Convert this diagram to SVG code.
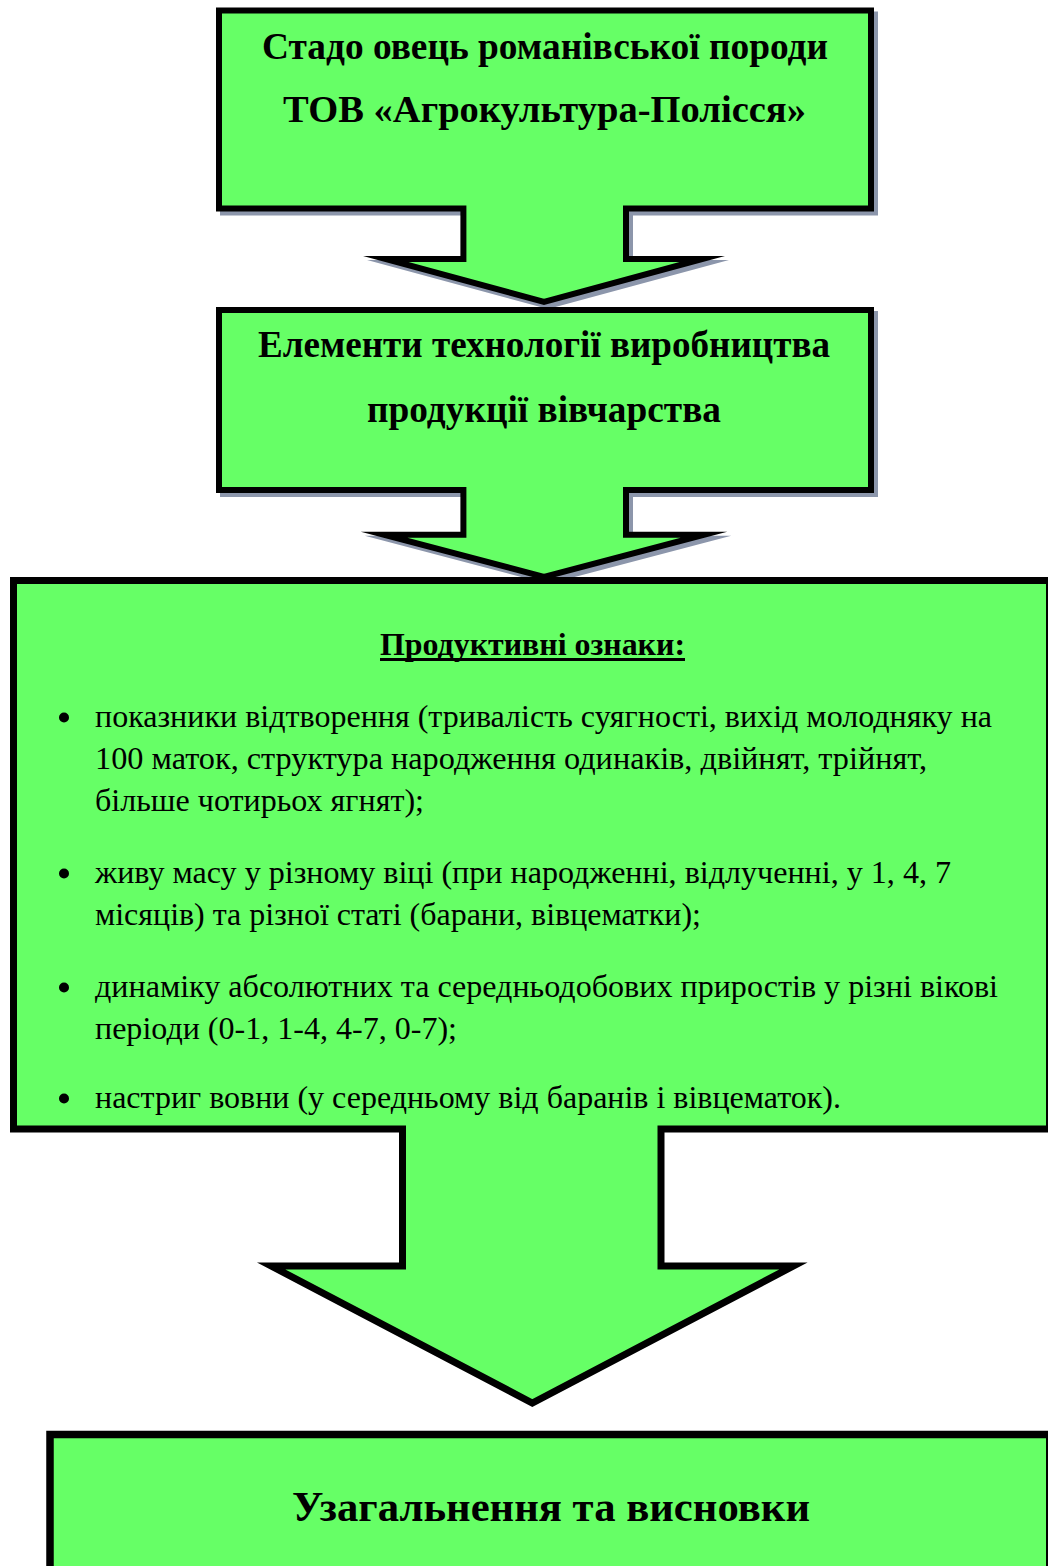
<svg xmlns="http://www.w3.org/2000/svg" width="1048" height="1566" viewBox="0 0 1048 1566">
<style>
.sh{fill:#8c96ab;stroke:#8c96ab;stroke-width:6;stroke-linejoin:miter;stroke-miterlimit:12}
.box{fill:#66ff66;stroke:#000;stroke-linejoin:miter;stroke-miterlimit:12}
.t{font-family:"Liberation Serif","Times New Roman",serif;fill:#000}
.h{font-weight:bold;font-size:37.5px}
.b{font-size:32px}
</style>
<rect width="1048" height="1566" fill="#fff"/>
<g id="connectors"></g>
<g id="node1">
<path class="sh" transform="translate(4,4)" d="M219,10.5 H871 V208.5 H626 V259 H702.4 L544,301.9 L385.6,259 H463.4 V208.5 H219 Z"/>
<path class="box" stroke-width="6" d="M219,10.5 H871 V208.5 H626 V259 H702.4 L544,301.9 L385.6,259 H463.4 V208.5 H219 Z"/>
<text class="t h" x="262" y="59" textLength="566" lengthAdjust="spacingAndGlyphs">Стадо овець романівської породи</text>
<text class="t h" x="283" y="122" textLength="523" lengthAdjust="spacingAndGlyphs">ТОВ «Агрокультура-Полісся»</text>
</g>
<g id="node2">
<path class="sh" transform="translate(4,4)" d="M219,310 H871 V490 H626 V534.7 H704.1 L544,576.9 L383.9,534.7 H463.4 V490 H219 Z"/>
<path class="box" stroke-width="6" d="M219,310 H871 V490 H626 V534.7 H704.1 L544,576.9 L383.9,534.7 H463.4 V490 H219 Z"/>
<text class="t h" x="258" y="357" textLength="572" lengthAdjust="spacingAndGlyphs">Елементи технології виробництва</text>
<text class="t h" x="367" y="422" textLength="354" lengthAdjust="spacingAndGlyphs">продукції вівчарства</text>
</g>
<g id="node3">
<path class="box" stroke-width="7" d="M13.5,580.5 H1049.5 V1129 H661 V1266 H793.4 L532.3,1403 L271.2,1266 H402.5 V1129 H13.5 Z"/>
<text class="t" x="380" y="655" font-size="32" font-weight="bold" textLength="305" lengthAdjust="spacingAndGlyphs">Продуктивні ознаки:</text>
<rect x="380" y="658" width="305" height="3" fill="#000"/>
<g fill="#000">
<circle cx="64" cy="717.5" r="5"/>
<circle cx="64" cy="873.5" r="5"/>
<circle cx="64" cy="987.5" r="5"/>
<circle cx="64" cy="1098.5" r="5"/>
</g>
<text class="t b" x="95" y="727" textLength="897" lengthAdjust="spacingAndGlyphs">показники відтворення (тривалість суягності, вихід молодняку на</text>
<text class="t b" x="95" y="769" textLength="832" lengthAdjust="spacingAndGlyphs">100 маток, структура народження одинаків, двійнят, трійнят,</text>
<text class="t b" x="95" y="811" textLength="329" lengthAdjust="spacingAndGlyphs">більше чотирьох ягнят);</text>
<text class="t b" x="95" y="883" textLength="856" lengthAdjust="spacingAndGlyphs">живу масу у різному віці (при народженні, відлученні, у 1, 4, 7</text>
<text class="t b" x="95" y="925" textLength="606" lengthAdjust="spacingAndGlyphs">місяців) та різної статі (барани, вівцематки);</text>
<text class="t b" x="95" y="997" textLength="903" lengthAdjust="spacingAndGlyphs">динаміку абсолютних та середньодобових приростів у різні вікові</text>
<text class="t b" x="95" y="1039" textLength="362" lengthAdjust="spacingAndGlyphs">періоди (0-1, 1-4, 4-7, 0-7);</text>
<text class="t b" x="95" y="1108" textLength="746" lengthAdjust="spacingAndGlyphs">настриг вовни (у середньому від баранів і вівцематок).</text>
</g>
<g id="node4">
<path class="box" stroke-width="7.5" d="M50,1600 V1434.5 H1049.75 V1600"/>
<text class="t" x="292" y="1521" font-size="43" font-weight="bold" textLength="518" lengthAdjust="spacingAndGlyphs">Узагальнення та висновки</text>
</g>
</svg>
